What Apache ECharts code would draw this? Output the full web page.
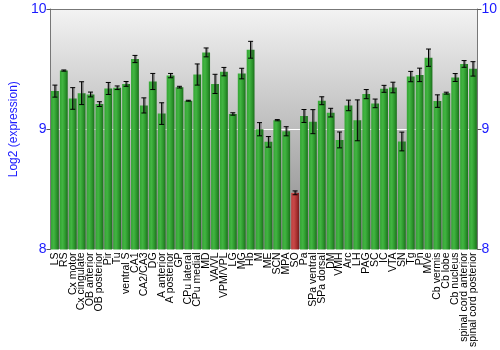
<!DOCTYPE html>
<html><head><meta charset="utf-8">
<script src="https://cdn.jsdelivr.net/npm/echarts@6/dist/echarts.min.js"></script>
<style>html,body{margin:0;padding:0;background:#fff}#c{width:500px;height:350px}</style>
</head><body><div id="c"></div>
<script>
var categories = ["LS","RS","Cx motor","Cx cingulate","OB anterior","OB posterior","Pir","Tu","ventral S","CA1","CA2/CA3","DG","A anterior","A posterior","GP","CPu lateral","CPu medial","MD","VA/VL","VPM/VPL","LG","MG","Hb","M","ME","SCN","MPA","SO","Pa","SPa ventral","SPa dorsal","DM","VMH","Arc","LH","PAG","SC","IC","VTA","SN","Tg","Pn","MVe","Cb vermis","Cb lobe","Cb nucleus","spinal cord anterior","spinal cord posterior"];
var values = [9.317,9.488,9.256,9.30,9.289,9.209,9.339,9.345,9.377,9.584,9.198,9.397,9.13,9.446,9.35,9.237,9.455,9.639,9.377,9.479,9.127,9.463,9.661,9.00,8.895,9.075,8.983,8.471,9.11,9.063,9.237,9.138,8.911,9.198,9.074,9.292,9.215,9.336,9.347,8.898,9.438,9.452,9.595,9.234,9.30,9.43,9.543,9.502];
var errors = [0.05,0.005,0.09,0.095,0.02,0.02,0.05,0.015,0.02,0.03,0.063,0.067,0.09,0.018,0.007,0.004,0.088,0.037,0.08,0.035,0.01,0.044,0.07,0.055,0.044,0.005,0.038,0.016,0.054,0.1,0.033,0.036,0.066,0.044,0.17,0.038,0.036,0.029,0.044,0.078,0.043,0.056,0.072,0.052,0.008,0.033,0.028,0.06];
var highlight = "SO";
var yTicks = [8, 9, 10];

var green = new echarts.graphic.LinearGradient(0,0,1,0,[
  {offset:0,color:'#33a533'},{offset:0.35,color:'#42b542'},{offset:0.7,color:'#2c962c'},{offset:1,color:'#1b6f1b'}]);
var red = new echarts.graphic.LinearGradient(0,0,1,0,[
  {offset:0,color:'#c04040'},{offset:0.35,color:'#c84848'},{offset:0.7,color:'#a83030'},{offset:1,color:'#7a1c1c'}]);

var barData = values.map(function(v,i){
  return {value:v, itemStyle:{color: categories[i]===highlight ? red : green}};
});
var errData = values.map(function(v,i){ return [i, v-errors[i], v+errors[i]]; });

var chart = echarts.init(document.getElementById('c'), null, {renderer:'canvas'});
chart.setOption({
  animation:false,
  grid:{left:34,right:21,top:9,bottom:98,show:true,borderWidth:0,
    backgroundColor:new echarts.graphic.LinearGradient(0,0,0,1,[{offset:0,color:'#f3f3f3'},{offset:1,color:'#868686'}])},
  xAxis:[{type:'category',data:categories,position:'bottom',
    axisLine:{show:false},axisTick:{show:false},
    axisLabel:{interval:0,rotate:90,fontSize:10.5,color:'#000',fontFamily:'Liberation Sans, Arial, sans-serif',margin:3}},
    {type:'category',data:categories,position:'top',axisLine:{show:true,lineStyle:{color:'#777',width:1}},axisTick:{show:false},axisLabel:{show:false}}],
  yAxis:[{type:'value',min:yTicks[0],max:yTicks[yTicks.length-1],interval:1,position:'left',
    name:'Log2 (expression)',nameLocation:'middle',nameGap:22,
    nameTextStyle:{color:'#1a1aff',fontSize:12,fontFamily:'Liberation Sans, Arial, sans-serif'},
    axisLine:{show:true,lineStyle:{color:'#777'}},axisTick:{show:true,length:4,lineStyle:{color:'#555'}},
    axisLabel:{color:'#1a1aff',fontSize:14,margin:4,fontFamily:'Liberation Sans, Arial, sans-serif',
      formatter:function(v){return yTicks.indexOf(v)>=0?String(v):'';}},
    splitLine:{show:true,lineStyle:{color:'#ffffff',width:1}}},
   {type:'value',min:yTicks[0],max:yTicks[yTicks.length-1],interval:1,position:'right',
    axisLine:{show:true,lineStyle:{color:'#777'}},axisTick:{show:true,length:4,lineStyle:{color:'#555'}},
    axisLabel:{color:'#1a1aff',fontSize:14,margin:4,fontFamily:'Liberation Sans, Arial, sans-serif'},
    splitLine:{show:false}}],
  series:[
    {type:'bar',data:barData,barCategoryGap:'12%',xAxisIndex:0,yAxisIndex:0},
    {type:'custom',xAxisIndex:0,yAxisIndex:0,data:errData,z:10,
     renderItem:function(params,api){
       var x=api.coord([api.value(0),api.value(1)])[0];
       var lo=api.coord([api.value(0),api.value(1)])[1];
       var hi=api.coord([api.value(0),api.value(2)])[1];
       var w=2.5;
       var line={stroke:'#000',lineWidth:1};
       var shadow={stroke:'rgba(60,60,60,0.45)',lineWidth:2.5};
       return {type:'group',children:[
         {type:'line',shape:{x1:x+0.8,y1:hi,x2:x+0.8,y2:lo},style:shadow},
         {type:'line',shape:{x1:x,y1:hi,x2:x,y2:lo},style:line},
         {type:'line',shape:{x1:x-w,y1:hi,x2:x+w,y2:hi},style:line},
         {type:'line',shape:{x1:x-w,y1:lo,x2:x+w,y2:lo},style:line}
       ]};
     }}
  ]
});
</script></body></html>
